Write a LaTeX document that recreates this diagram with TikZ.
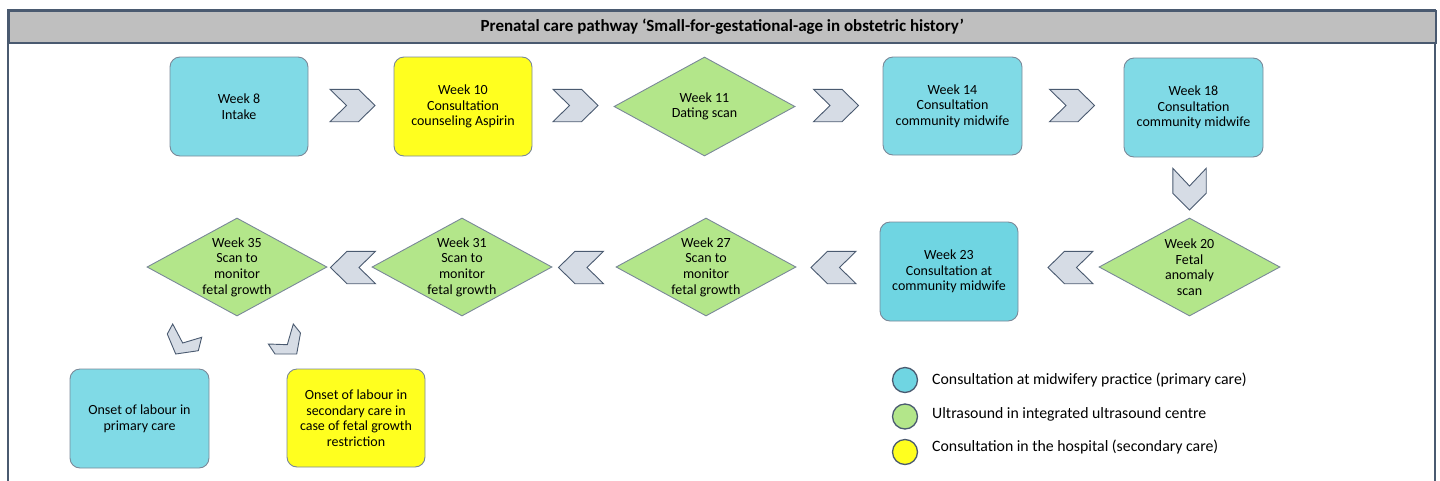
\documentclass[tikz,border=0pt]{standalone}
\usepackage{fontspec}
\setmainfont{Carlito}
\usetikzlibrary{shapes.geometric}
\definecolor{cyanbox}{HTML}{80DAE6}
\definecolor{cyanbox2}{HTML}{6FD5E2}
\definecolor{greenbox}{HTML}{B3E68A}
\definecolor{yellowbox}{HTML}{FFFF1F}
\definecolor{edgegray}{HTML}{7A8898}
\definecolor{slate}{HTML}{4A5A70}
\definecolor{chevfill}{HTML}{D6DCE5}
\definecolor{titlegray}{HTML}{BFBFBF}
\begin{document}
\begin{tikzpicture}[x=1pt,y=-1pt,
  txt/.style={font={\fontsize{14pt}{15.6pt}\selectfont}, align=center, text=black},
  rbox/.style={draw=edgegray, line width=0.9pt, rounded corners=10pt, minimum width=138pt, minimum height=99pt, inner sep=2pt, txt},
  dia/.style={diamond, draw=edgegray, line width=0.9pt, fill=greenbox, minimum width=181pt, minimum height=99pt, inner sep=0pt, aspect=1.83},
  chev/.style={draw=slate, line width=0.9pt, fill=chevfill, line join=miter},
  legc/.style={circle, draw=slate, line width=1.3pt, minimum size=25pt, inner sep=0pt},
  legt/.style={anchor=west, font={\fontsize{15.8pt}{18pt}\selectfont}, inner sep=0pt},
  chevR/.pic={\draw[chev] (-22.5,-16.2) -- (6,-16.2) -- (22.5,0) -- (6,16.2) -- (-22.5,16.2) -- (-6,0) -- cycle;},
  chevL/.pic={\draw[chev] (22.5,-16.2) -- (-6,-16.2) -- (-22.5,0) -- (-6,16.2) -- (22.5,16.2) -- (6,0) -- cycle;},
  chevD/.pic={\draw[chev] (-16.7,-20.7) -- (0,-3) -- (16.7,-20.7) -- (16.7,4.3) -- (0,21) -- (-16.7,4.3) -- cycle;}
]
\useasboundingbox (0,0) rectangle (1440,480);
% frame
\draw[slate, line width=1.5pt] (8,500) -- (8,10) -- (1435,10) -- (1435,500);
\node[draw=slate, line width=1.5pt, fill=titlegray, minimum width=1427pt, minimum height=32pt, inner sep=0pt, anchor=north west,
  font={\fontsize{17pt}{19pt}\selectfont\bfseries}] (title) at (8,10) {Prenatal care pathway ‘Small-for-gestational-age in obstetric history’};

% row 1
\node[rbox, fill=cyanbox] (w8) at (239,106.5) {Week 8\\Intake};
\node[rbox, fill=yellowbox] (w10) at (463,106.5) {Week 10\\Consultation\\counseling Aspirin};
\node[dia] (w11) at (704.5,106.5) {};
\node[txt] at (w11) {Week 11\\Dating scan};
\node[rbox, fill=cyanbox, minimum width=139pt, minimum height=98pt] (w14) at (952.5,106) {Week 14\\Consultation\\community midwife};
\node[rbox, fill=cyanbox, minimum width=139pt] (w18) at (1193.5,107.5) {Week 18\\Consultation\\community midwife};

\pic at (352.5,105.5) {chevR};
\pic at (575.5,105.5) {chevR};
\pic at (836,105.5) {chevR};
\pic at (1072,105.5) {chevR};
\pic at (1189.5,189) {chevD};

% row 2
\node[dia, minimum height=98pt] (w20) at (1189.5,267) {};
\node[txt] at (w20) {Week 20\\Fetal\\anomaly\\scan};
\node[rbox, fill=cyanbox2] (w23) at (949,271.5) {Week 23\\Consultation at\\community midwife};
\node[dia, minimum width=180pt, minimum height=98pt] (w27) at (706,267) {};
\node[txt] at (w27) {Week 27\\Scan to\\monitor\\fetal growth};
\node[dia, minimum width=180pt, minimum height=98pt] (w31) at (462,267) {};
\node[txt] at (w31) {Week 31\\Scan to\\monitor\\fetal growth};
\node[dia, minimum width=180pt, minimum height=98pt] (w35) at (237,267) {};
\node[txt] at (w35) {Week 35\\Scan to\\monitor\\fetal growth};

\pic at (1070.5,267.5) {chevL};
\pic at (833.5,267.5) {chevL};
\pic at (581,267.5) {chevL};
\pic at (353,267.5) {chevL};

% rotated chevrons
\draw[chev] (172.7,324) -- (182.7,343) -- (201.7,337.3) -- (198.3,350.7) -- (175.7,354) -- (167.3,334) -- cycle;
\draw[chev] (293.3,324) -- (300.5,333) -- (296.7,354) -- (275,354) -- (268.3,344) -- (287.3,344.7) -- cycle;

% row 3
\node[rbox, fill=cyanbox, minimum width=139pt] (on1) at (139.5,418.5) {Onset of labour in\\primary care};
\node[rbox, fill=yellowbox, minimum height=98pt] (on2) at (356,418) {Onset of labour in\\secondary care in\\case of fetal growth\\restriction};

% legend
\node[legc, fill=cyanbox2] (l1) at (905,380) {};
\node[legc, fill=greenbox] (l2) at (905,416.5) {};
\node[legc, fill=yellowbox] (l3) at (905,452) {};
\node[legt] at (932,380) {Consultation at midwifery practice (primary care)};
\node[legt] at (932,414) {Ultrasound in integrated ultrasound centre};
\node[legt] at (932,447) {Consultation in the hospital (secondary care)};
\end{tikzpicture}
\end{document}
